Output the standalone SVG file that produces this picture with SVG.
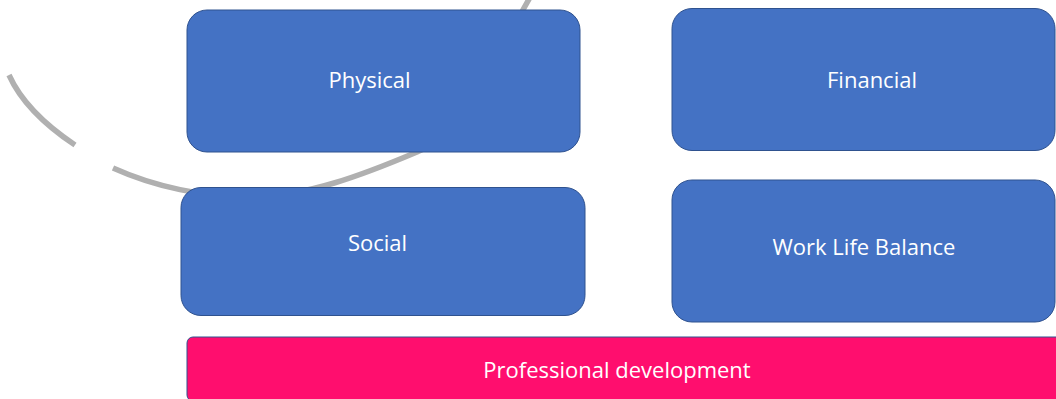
<svg xmlns="http://www.w3.org/2000/svg" width="1056" height="399" viewBox="0 0 1056 399">
  <style>
    .arc { fill: none; stroke: #B0B0B0; stroke-width: 5.5; stroke-linecap: butt; }
    .card { fill: #4472C4; stroke: #2F528F; stroke-width: 1; }
    .bar { fill: #FF0E6E; stroke: #2F528F; stroke-width: 1; }
    .label { fill: #FFFFFF; font-family: "Open Sans", "Noto Sans", "Liberation Sans", sans-serif; font-size: 22px; text-anchor: middle; }
  </style>

  <rect x="0" y="0" width="1056" height="399" fill="#FFFFFF"/>

  <!-- decorative broken arc sitting behind the cards -->
  <g id="backdrop-arc">
    <path class="arc" d="M9,75 Q25.7,112.1 75,145"/>
    <path class="arc" d="M113,168 C155,187 204,197 250,197 C306,197 365,174 417,152 C477,127 492,61 532,-6"/>
  </g>

  <g id="physical">
    <rect class="card" x="187" y="10" width="393" height="142" rx="20" ry="20"/>
    <text class="label" x="369.5" y="88">Physical</text>
  </g>

  <g id="financial">
    <rect class="card" x="672" y="8.5" width="383" height="142" rx="20" ry="20"/>
    <text class="label" x="872" y="87.5">Financial</text>
  </g>

  <g id="social">
    <rect class="card" x="181" y="187.5" width="404" height="128" rx="20" ry="20"/>
    <text class="label" x="377.5" y="251">Social</text>
  </g>

  <g id="work-life-balance">
    <rect class="card" x="672" y="180" width="383" height="142" rx="20" ry="20"/>
    <text class="label" x="864" y="255">Work Life Balance</text>
  </g>

  <g id="professional-development">
    <rect class="bar" x="187" y="337" width="880" height="64" rx="6" ry="6"/>
    <text class="label" x="617" y="378">Professional development</text>
  </g>
</svg>
